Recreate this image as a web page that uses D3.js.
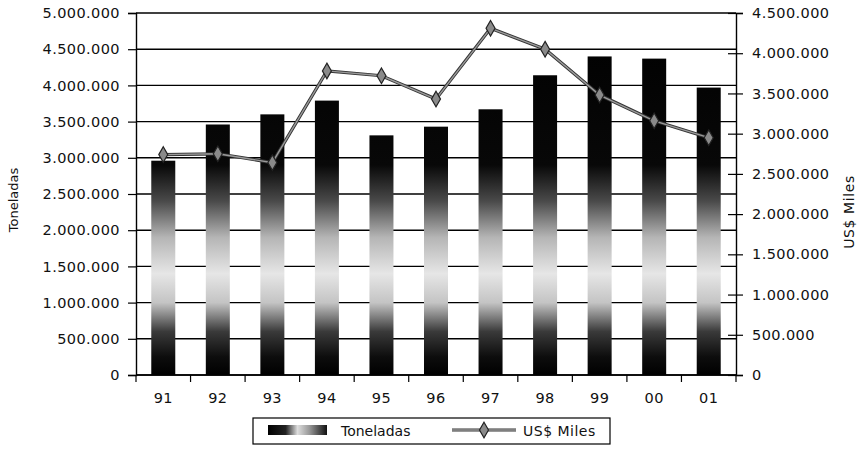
<!DOCTYPE html>
<html>
<head>
<meta charset="utf-8">
<script src="https://cdn.jsdelivr.net/npm/d3@7/dist/d3.min.js"></script>
<style>
  html, body { margin: 0; padding: 0; background: #fff; }
  svg { display: block; }
  text { font-family: "DejaVu Sans", Verdana, sans-serif; fill: #111; }
</style>
</head>
<body>
<svg id="chart" width="861" height="465"></svg>
<script>
// Annual series, 1991–2001
const years = ["91", "92", "93", "94", "95", "96", "97", "98", "99", "00", "01"];
const toneladas = [2960000, 3460000, 3600000, 3790000, 3310000, 3430000, 3670000, 4140000, 4400000, 4370000, 3970000];
const usMiles = [2740000, 2750000, 2640000, 3780000, 3720000, 3430000, 4310000, 4050000, 3480000, 3160000, 2950000];
const leftTicks = [0, 500000, 1000000, 1500000, 2000000, 2500000, 3000000, 3500000, 4000000, 4500000, 5000000];
const rightTicks = [0, 500000, 1000000, 1500000, 2000000, 2500000, 3000000, 3500000, 4000000, 4500000];

const svg = d3.select("#chart");
const plot = { left: 136, right: 736, top: 13, bottom: 375 };

const fmt = d3.formatLocale({ decimal: ",", thousands: ".", grouping: [3], currency: ["$", ""] }).format(",");

const x = d3.scaleBand().domain(years).range([plot.left, plot.right]).paddingInner(0.56).paddingOuter(0.28);
const yL = d3.scaleLinear().domain([0, 5000000]).range([plot.bottom, plot.top]);
const yR = d3.scaleLinear().domain([0, 4500000]).range([plot.bottom, plot.top]);

// Vertical shading used for the columns
const defs = svg.append("defs");
const grad = defs.append("linearGradient")
  .attr("id", "colShade").attr("gradientUnits", "userSpaceOnUse")
  .attr("x1", 0).attr("x2", 0).attr("y1", plot.top).attr("y2", plot.bottom);
[[0, "#000"], [0.42, "#080808"], [0.52, "#4a4a4a"], [0.62, "#b5b5b5"], [0.72, "#e6e6e6"],
 [0.8, "#c4c4c4"], [0.88, "#3a3a3a"], [0.95, "#0d0d0d"], [1, "#000"]]
  .forEach(([o, c]) => grad.append("stop").attr("offset", o).attr("stop-color", c));

const legGrad = defs.append("linearGradient").attr("id", "legShade").attr("x1", 0).attr("x2", 1).attr("y1", 0).attr("y2", 0);
[[0, "#000"], [0.3, "#222"], [0.5, "#ddd"], [0.7, "#999"], [1, "#111"]]
  .forEach(([o, c]) => legGrad.append("stop").attr("offset", o).attr("stop-color", c));

// Horizontal gridlines
svg.append("g").selectAll("line").data(leftTicks).join("line")
  .attr("x1", plot.left).attr("x2", plot.right)
  .attr("y1", d => yL(d)).attr("y2", d => yL(d))
  .attr("stroke", "#000").attr("stroke-width", 1.4);

// Left axis
const axL = svg.append("g").attr("transform", `translate(${plot.left},0)`)
  .call(d3.axisLeft(yL).tickValues(leftTicks).tickFormat(fmt).tickSize(8).tickPadding(8));
axL.select(".domain").attr("stroke", "#000").attr("stroke-width", 1.4);
axL.selectAll(".tick line").attr("stroke", "#000").attr("stroke-width", 1.2);
axL.selectAll("text").style("font-size", "14.5px").style("letter-spacing", "0.4px").attr("fill", "#111");

// Right axis (ticks cross the axis line)
const axR = svg.append("g").attr("transform", `translate(${plot.right},0)`)
  .call(d3.axisRight(yR).tickValues(rightTicks).tickFormat(fmt).tickSize(7).tickPadding(9));
axR.select(".domain").attr("stroke", "#000").attr("stroke-width", 1.4);
axR.selectAll(".tick line").attr("x1", -8).attr("stroke", "#000").attr("stroke-width", 1.2);
axR.selectAll("text").style("font-size", "14.5px").style("letter-spacing", "0.4px").attr("fill", "#111");

// Columns
svg.append("g").selectAll("rect").data(years).join("rect")
  .attr("x", (d) => x(d))
  .attr("width", x.bandwidth())
  .attr("y", (d, i) => yL(toneladas[i]))
  .attr("height", (d, i) => plot.bottom - yL(toneladas[i]))
  .attr("fill", "url(#colShade)");

// Category axis: baseline, boundary ticks, labels
svg.append("line").attr("x1", plot.left).attr("x2", plot.right)
  .attr("y1", plot.bottom).attr("y2", plot.bottom).attr("stroke", "#000").attr("stroke-width", 1.4);
const bounds = d3.range(years.length + 1).map(i => plot.left + i * x.step());
svg.append("g").selectAll("line").data(bounds).join("line")
  .attr("x1", d => d).attr("x2", d => d).attr("y1", plot.bottom).attr("y2", plot.bottom + 7)
  .attr("stroke", "#000").attr("stroke-width", 1.2);
svg.append("g").selectAll("text").data(years).join("text")
  .attr("x", d => x(d) + x.bandwidth() / 2).attr("y", 403)
  .attr("text-anchor", "middle").style("font-size", "14.5px").style("letter-spacing", "0.4px")
  .text(d => d);

// Value line with diamond markers
const cx = d => x(d) + x.bandwidth() / 2;
const line = d3.line().x((d, i) => cx(years[i])).y(d => yR(d));
svg.append("path").datum(usMiles).attr("d", line)
  .attr("fill", "none").attr("stroke", "#333").attr("stroke-width", 3.2);
svg.append("path").datum(usMiles).attr("d", line)
  .attr("fill", "none").attr("stroke", "#9a9a9a").attr("stroke-width", 1.4);
const diamond = d3.symbol().type(d3.symbolDiamond).size(70);
svg.append("g").selectAll("path").data(usMiles).join("path")
  .attr("transform", (d, i) => `translate(${cx(years[i])},${yR(d)})`)
  .attr("d", diamond)
  .attr("fill", "#8a8a8a").attr("stroke", "#222").attr("stroke-width", 1.2);

// Axis titles
svg.append("text").attr("transform", "translate(18,200) rotate(-90)")
  .attr("text-anchor", "middle").style("font-size", "13px").text("Toneladas");
svg.append("text").attr("transform", "translate(854,212) rotate(-90)")
  .attr("text-anchor", "middle").style("font-size", "14px").style("letter-spacing", "0.6px").text("US$ Miles");

// Legend
const leg = svg.append("g");
leg.append("rect").attr("x", 253).attr("y", 418).attr("width", 357).attr("height", 26)
  .attr("fill", "#fff").attr("stroke", "#000").attr("stroke-width", 1.2);
leg.append("rect").attr("x", 268).attr("y", 425).attr("width", 59).attr("height", 10)
  .attr("fill", "url(#legShade)");
leg.append("text").attr("x", 341).attr("y", 436).style("font-size", "14px").text("Toneladas");
leg.append("line").attr("x1", 452).attr("x2", 516).attr("y1", 430).attr("y2", 430)
  .attr("stroke", "#333").attr("stroke-width", 3);
leg.append("line").attr("x1", 452).attr("x2", 516).attr("y1", 430).attr("y2", 430)
  .attr("stroke", "#9a9a9a").attr("stroke-width", 1.3);
leg.append("path").attr("transform", "translate(484,430)").attr("d", diamond)
  .attr("fill", "#8a8a8a").attr("stroke", "#222").attr("stroke-width", 1.2);
leg.append("text").attr("x", 523).attr("y", 436).style("font-size", "14px").style("letter-spacing", "0.5px").text("US$ Miles");
</script>
</body>
</html>
